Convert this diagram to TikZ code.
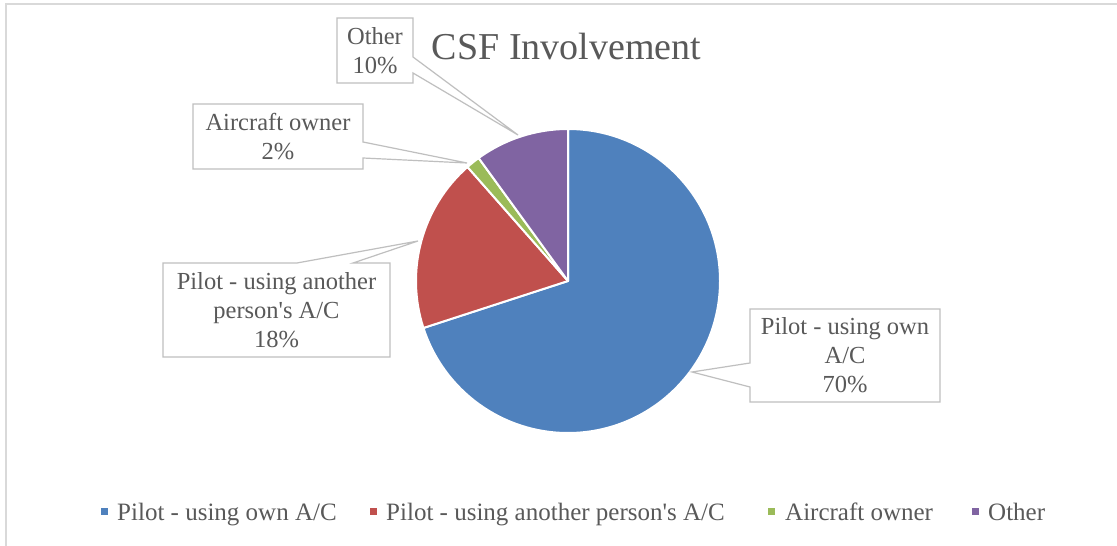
\documentclass[tikz,border=0pt]{standalone}
\usepackage{fontspec}
\setmainfont{Liberation Serif}
\definecolor{txt}{HTML}{595959}
\definecolor{bordergray}{HTML}{D9D9D9}
\definecolor{callgray}{HTML}{BFBFBF}
\definecolor{cblue}{HTML}{4F81BD}
\definecolor{cred}{HTML}{C0504D}
\definecolor{cgreen}{HTML}{9BBB59}
\definecolor{cpurple}{HTML}{8064A2}
\tikzset{
  slice/.style={draw=white, line width=2pt, line join=round},
  callout/.style={draw=callgray, line width=1.2pt, fill=white, line join=miter},
  labeltext/.style={text=txt, font=\fontsize{24.5}{29}\selectfont, align=center, inner sep=0pt},
  legtext/.style={text=txt, font=\fontsize{25}{29}\selectfont, anchor=base west, inner sep=0pt},
  legmark/.style={minimum size=7pt, inner sep=0pt, anchor=center}
}
\begin{document}
\begin{tikzpicture}[x=1pt,y=1pt]
\useasboundingbox (0,0) rectangle (1117,546);
\fill[white] (0,0) rectangle (1117,546);
% outer chart border
\draw[bordergray, line width=1.5pt] (6,0) -- (6,542) -- (1117,542);
% title
\node[text=txt, font=\fontsize{38}{44}\selectfont, anchor=base, inner sep=0pt] (title) at (566.5,486) {CSF Involvement};
% pie
\coordinate (c) at (568,265);
\fill[cblue, slice] (c) -- ++(90:152) arc[start angle=90, end angle=-162, radius=152] -- cycle;
\fill[cred, slice] (c) -- ++(198:152) arc[start angle=198, end angle=131.4, radius=152] -- cycle;
\fill[cgreen, slice] (c) -- ++(131.4:152) arc[start angle=131.4, end angle=126, radius=152] -- cycle;
\fill[cpurple, slice] (c) -- ++(126:152) arc[start angle=126, end angle=90, radius=152] -- cycle;
% callouts
\draw[callout] (337,528) -- (413,528) -- (413,489) -- (518,411) -- (413,473) -- (413,463) -- (337,463) -- cycle;
\node[labeltext] (lother) at (375,495.5) {Other\\10\%};
\draw[callout] (193,442) -- (363,442) -- (363,404) -- (467,383) -- (363,388) -- (363,377) -- (193,377) -- cycle;
\node[labeltext] (lowner) at (278,409.5) {Aircraft owner\\2\%};
\draw[callout] (163,283) -- (297,283) -- (418,305) -- (353,283) -- (390,283) -- (390,189) -- (163,189) -- cycle;
\node[labeltext] (lanother) at (276.5,236) {Pilot - using another\\person\textquotesingle s A/C\\18\%};
\draw[callout] (750,237) -- (940,237) -- (940,144) -- (750,144) -- (750,159) -- (692,174) -- (750,183) -- cycle;
\node[labeltext] (lown) at (845,190.5) {Pilot - using own\\A/C\\70\%};
% legend
\node[legmark, fill=cblue] (m1) at (104.5,34.5) {};
\node[legtext] (t1) at (117,25) {Pilot - using own A/C};
\node[legmark, fill=cred] (m2) at (373.5,34.5) {};
\node[legtext] (t2) at (386,25) {Pilot - using another person\textquotesingle s A/C};
\node[legmark, fill=cgreen] (m3) at (771.5,34.5) {};
\node[legtext] (t3) at (785,25) {Aircraft owner};
\node[legmark, fill=cpurple] (m4) at (975.5,34.5) {};
\node[legtext] (t4) at (988,25) {Other};
\end{tikzpicture}
\end{document}
